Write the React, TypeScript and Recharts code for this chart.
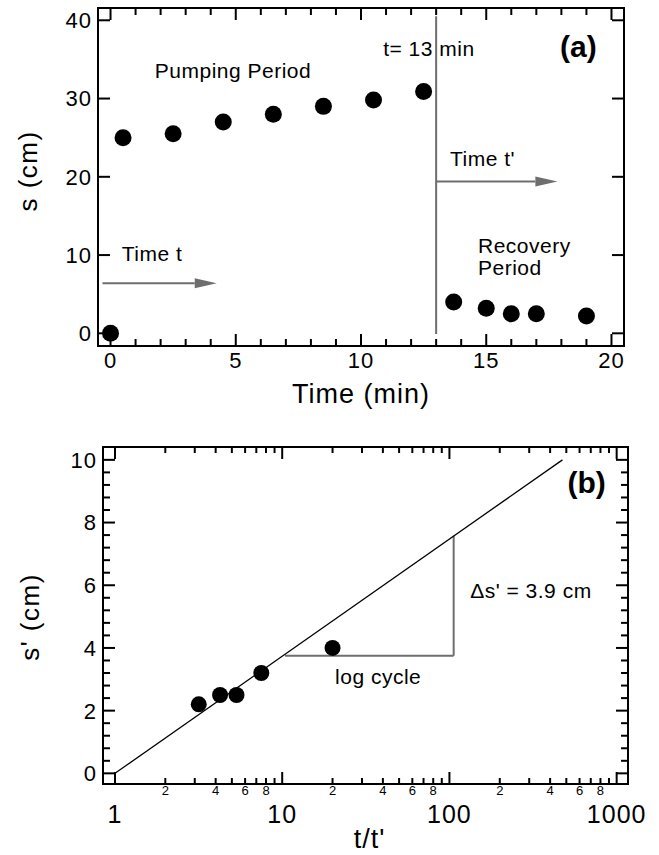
import { ReferenceDot, ReferenceLine, Scatter, ScatterChart, XAxis, YAxis } from "recharts";

// (a) drawdown s during pumping (t < 13 min) and recovery
const timeMin = [0, 0.5, 2.5, 4.5, 6.5, 8.5, 10.5, 12.5, 13.7, 15, 16, 17, 19];
const drawdownCm = [0, 25, 25.5, 27, 28, 29, 29.8, 30.9, 4.0, 3.2, 2.5, 2.5, 2.2];

// (b) residual drawdown s' against t/t'
const timeRatio = [20, 7.5, 5.33, 4.25, 3.17];
const residualCm = [4.0, 3.2, 2.5, 2.5, 2.2];
const fitRatio = [1, 474];
const fitResidual = [0, 10];

const timeTicks = [0, 1, 2, 3, 4, 5, 6, 7, 8, 9, 10, 11, 12, 13, 14, 15, 16, 17, 18, 19, 20];
const sTicks = [0, 10, 20, 30, 40];
const ratioTicks = [
	1, 2, 3, 4, 5, 6, 7, 8, 9, 10, 20, 30, 40, 50, 60, 70, 80, 90, 100, 200, 300,
	400, 500, 600, 700, 800, 900, 1000,
];
const residualTicks = [
	0, 0.4, 0.8, 1.2, 1.6, 2, 2.4, 2.8, 3.2, 3.6, 4, 4.4, 4.8, 5.2, 5.6, 6, 6.4,
	6.8, 7.2, 7.6, 8, 8.4, 8.8, 9.2, 9.6, 10,
];
const majorRatios = [1, 10, 100, 1000];
const labelledDigits = [2, 4, 6, 8];

const pumpData = timeMin.map((x, i) => ({ x, y: drawdownCm[i] }));
const recoveryData = timeRatio.map((x, i) => ({ x, y: residualCm[i] }));
const fitData = fitRatio.map((x, i) => ({ x, y: fitResidual[i] }));

const FONT = "'Liberation Sans', Arial, Helvetica, sans-serif";
const GRAY = "#6e6e6e";
const AXIS = { stroke: "#000", strokeWidth: 2, strokeLinecap: "square" as const };

type Side = "bottom" | "top" | "left" | "right";

function axisTick(
	side: Side,
	lenOf: (v: number) => number,
	labelOf?: (v: number, x: number, y: number) => React.ReactNode,
) {
	return (p: any) => {
		const { x, y, payload } = p;
		const v = payload.value as number;
		const len = lenOf(v);
		const dx = side === "left" ? len : side === "right" ? -len : 0;
		const dy = side === "bottom" ? -len : side === "top" ? len : 0;
		return (
			<g>
				<line x1={x} y1={y} x2={x + dx} y2={y + dy} stroke="#000" strokeWidth={2} />
				{labelOf ? labelOf(v, x, y) : null}
			</g>
		);
	};
}

const txt = (
	x: number,
	y: number,
	s: string | number,
	size: number,
	anchor: "start" | "middle" | "end" = "middle",
	extra: any = {},
) => (
	<text
		x={x}
		y={y}
		textAnchor={anchor}
		fontSize={size}
		fontFamily={FONT}
		fill="#000"
		letterSpacing={1}
		{...extra}
	>
		{s}
	</text>
);

// chart (a) ticks
const lenA = (v: number) => (v % 5 === 0 ? 12 : 7);
const aBottom = axisTick("bottom", lenA, (v, x, y) =>
	v % 5 === 0 ? txt(x, y + 22, v, 22) : null,
);
const aTop = axisTick("top", lenA);
const aLeft = axisTick("left", () => 12, (v, x, y) =>
	txt(x - 6, y, v, 22, "end", { dy: "0.36em" }),
);
const aRight = axisTick("right", () => 12);

// chart (b) ticks
const mantissa = (v: number) => Math.round(v / Math.pow(10, Math.floor(Math.log10(v) + 1e-9)));
const lenB = (v: number) => (majorRatios.includes(v) ? 12 : 6);
const bBottom = axisTick("bottom", lenB, (v, x, y) => {
	if (majorRatios.includes(v)) return txt(x, y + 39, v, 25);
	const m = mantissa(v);
	if (labelledDigits.includes(m)) return txt(x, y + 11, m, 13, "middle", { letterSpacing: 0 });
	return null;
});
const bTop = axisTick("top", lenB);
const isEven = (v: number) => Math.abs(v / 2 - Math.round(v / 2)) < 1e-6;
const bLeft = axisTick("left", (v) => (isEven(v) ? 12 : 7), (v, x, y) =>
	isEven(v) ? txt(x - 6, y, v, 22, "end", { dy: "0.36em" }) : null,
);
const bRight = axisTick("right", (v) => (isEven(v) ? 12 : 7));

const dotA = (p: any) => <circle cx={p.cx} cy={p.cy} r={8.5} fill="#000" />;
const dotB = (p: any) => <circle cx={p.cx} cy={p.cy} r={8} fill="#000" />;

const arrowShape = (p: any) => {
	const { x1, y1, x2, y2 } = p;
	const head = 22;
	return (
		<g>
			<line x1={x1} y1={y1} x2={x2 - head} y2={y2} stroke={GRAY} strokeWidth={2} />
			<polygon points={`${x2},${y2} ${x2 - head},${y2 - 5} ${x2 - head},${y2 + 5}`} fill={GRAY} />
		</g>
	);
};

function note(
	key: string,
	xa: string,
	ya: string,
	x: number,
	y: number,
	text: string,
	size = 21,
	anchor: "start" | "middle" | "end" = "middle",
	extra: any = {},
) {
	return (
		<ReferenceDot
			key={key}
			xAxisId={xa}
			yAxisId={ya}
			x={x}
			y={y}
			r={0}
			fill="none"
			stroke="none"
			ifOverflow="visible"
			label={(p: any) => {
				const vb = p.viewBox ?? p;
				return txt(vb.x, vb.y, text, size, anchor, { dy: "0.36em", letterSpacing: 0.5, ...extra });
			}}
		/>
	);
}

const titleA = (p: any) => {
	const vb = p.viewBox ?? { x: 98, y: 346, width: 526 };
	return txt(vb.x + vb.width / 2, vb.y + 57, "Time (min)", 27);
};
const yTitleA = () => (
	<text
		x={37}
		y={171}
		transform="rotate(-90 37 171)"
		textAnchor="middle"
		fontSize={26}
		fontFamily={FONT}
		letterSpacing={1.5}
	>
		s (cm)
	</text>
);
const titleB = (p: any) => {
	const vb = p.viewBox ?? { x: 103, y: 364, width: 525 };
	return txt(vb.x + vb.width / 2 + 4, vb.y + 64, "t/t'", 27);
};
const yTitleB = () => (
	<text
		x={39}
		y={197}
		transform="rotate(-90 39 197)"
		textAnchor="middle"
		fontSize={26}
		fontFamily={FONT}
		letterSpacing={1.5}
	>
		s' (cm)
	</text>
);

const common = {
	type: "number" as const,
	allowDataOverflow: true,
	interval: 0 as const,
	tickSize: 0,
	tickMargin: 0,
	tickLine: false,
	axisLine: AXIS,
};

export default function App() {
	return (
		<div style={{ position: "absolute", left: 0, top: 0, width: 659, height: 855, background: "#fff" }}>
			<ScatterChart width={659} height={420} margin={{ top: 7, right: 34, bottom: 73, left: 97 }}>
				<XAxis {...common} xAxisId="b" dataKey="x" domain={[-0.5, 20.5]} ticks={timeTicks} height={1} tick={aBottom} label={titleA} />
				<XAxis {...common} xAxisId="t" orientation="top" dataKey="x" domain={[-0.5, 20.5]} ticks={timeTicks} height={1} tick={aTop} />
				<YAxis {...common} yAxisId="l" dataKey="y" domain={[-1.62, 41.57]} ticks={sTicks} width={1} tick={aLeft} label={yTitleA} />
				<YAxis {...common} yAxisId="r" orientation="right" dataKey="y" domain={[-1.62, 41.57]} ticks={sTicks} width={1} tick={aRight} />
				<ReferenceLine xAxisId="b" yAxisId="l" segment={[{ x: 13, y: -0.1 }, { x: 13, y: 40.5 }]} stroke={GRAY} strokeWidth={2} />
				<ReferenceLine xAxisId="b" yAxisId="l" segment={[{ x: -0.32, y: 6.4 }, { x: 4.24, y: 6.4 }]} shape={arrowShape} />
				<ReferenceLine xAxisId="b" yAxisId="l" segment={[{ x: 13, y: 19.4 }, { x: 17.84, y: 19.4 }]} shape={arrowShape} />
				{note("pp", "b", "l", 4.89, 33.65, "Pumping Period")}
				{note("t13", "b", "l", 12.71, 36.46, "t= 13 min")}
				{note("a", "b", "l", 18.68, 36.46, "(a)", 30, "middle", { fontWeight: "bold", dy: "0.3em", letterSpacing: 0 })}
				{note("tt", "b", "l", 1.66, 10.2, "Time t")}
				{note("ttp", "b", "l", 14.85, 22.36, "Time t'")}
				{note("rec", "b", "l", 14.67, 11.28, "Recovery", 21, "start")}
				{note("per", "b", "l", 14.67, 8.47, "Period", 21, "start")}
				<Scatter xAxisId="b" yAxisId="l" data={pumpData} shape={dotA} isAnimationActive={false} />
			</ScatterChart>
			<ScatterChart width={659} height={435} margin={{ top: 26, right: 30, bottom: 70, left: 102 }}>
				<XAxis {...common} xAxisId="b" scale="log" dataKey="x" domain={[0.848, 1169]} ticks={ratioTicks} height={1} tick={bBottom} label={titleB} />
				<XAxis {...common} xAxisId="t" orientation="top" scale="log" dataKey="x" domain={[0.848, 1169]} ticks={ratioTicks} height={1} tick={bTop} />
				<YAxis {...common} yAxisId="l" dataKey="y" domain={[-0.34, 10.41]} ticks={residualTicks} width={1} tick={bLeft} label={yTitleB} />
				<YAxis {...common} yAxisId="r" orientation="right" dataKey="y" domain={[-0.34, 10.41]} ticks={residualTicks} width={1} tick={bRight} />
				<ReferenceLine xAxisId="b" yAxisId="l" segment={[{ x: 10.4, y: 3.75 }, { x: 106, y: 3.75 }]} stroke={GRAY} strokeWidth={2} />
				<ReferenceLine xAxisId="b" yAxisId="l" segment={[{ x: 106, y: 3.75 }, { x: 106, y: 7.58 }]} stroke={GRAY} strokeWidth={2} />
				{note("b", "b", "l", 661.7, 9.23, "(b)", 30, "middle", { fontWeight: "bold", dy: "0.3em", letterSpacing: 0 })}
				{note("ds", "b", "l", 133, 5.85, "\u0394s' = 3.9 cm", 21, "start")}
				{note("lc", "b", "l", 20.7, 3.08, "log cycle", 21, "start")}
				<Scatter xAxisId="b" yAxisId="l" data={fitData} line={{ stroke: "#000", strokeWidth: 1.3 }} shape={() => <g />} isAnimationActive={false} />
				<Scatter xAxisId="b" yAxisId="l" data={recoveryData} shape={dotB} isAnimationActive={false} />
			</ScatterChart>
		</div>
	);
}
